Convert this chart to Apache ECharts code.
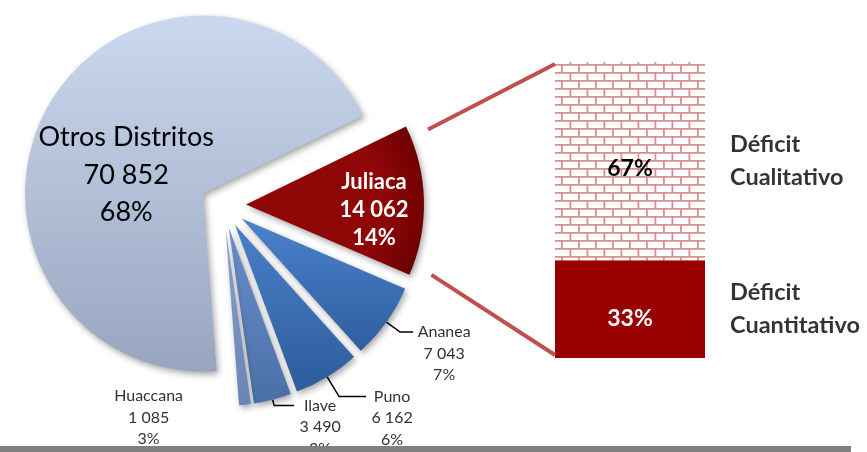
<!DOCTYPE html>
<html><head><meta charset="utf-8">
<script src="https://cdn.jsdelivr.net/npm/echarts@6/dist/echarts.min.js"></script>
<style>html,body{margin:0;padding:0;background:#fff}#c{width:867px;height:452px}</style>
</head><body><div id="c"></div>
<script>
// ---- data ----
const districts = ['Juliaca', 'Ananea', 'Puno', 'Ilave', 'Huaccana', 'Otros Distritos'];
const viviendas = [14062, 7043, 6162, 3490, 1085, 70852];
const pctLabels = ['14%', '7%', '6%', '3%', '3%', '68%'];
const deficitNames = ['Déficit\nCuantitativo', 'Déficit\nCualitativo'];
const deficitPct = [33, 67];
const barCategory = ['Juliaca'];

// ---- layout / style ----
const FONT = 'Lato, "Open Sans", sans-serif';
const PIE_C = [223, 205], PIE_R = 178, OFFSET = 23, START = 26;
const GRID = { left: 555, top: 62, width: 150, height: 296 };

function fmt(v) { return String(v).replace(/\B(?=(\d{3})+(?!\d))/g, ' '); }

function brickPattern() {
  const c = document.createElement('canvas');
  c.width = 34; c.height = 16;
  const g = c.getContext('2d');
  g.fillStyle = '#ffffff'; g.fillRect(0, 0, 34, 16);
  g.strokeStyle = '#d98f8d'; g.lineWidth = 1.8;
  g.beginPath();
  g.moveTo(0, 0.9); g.lineTo(34, 0.9);
  g.moveTo(0, 8.9); g.lineTo(34, 8.9);
  g.moveTo(0.9, 0); g.lineTo(0.9, 8);
  g.moveTo(17.9, 0); g.lineTo(17.9, 8);
  g.moveTo(9.4, 8); g.lineTo(9.4, 16);
  g.moveTo(26.4, 8); g.lineTo(26.4, 16);
  g.stroke();
  return c;
}

function lin(a, b) {
  return { type: 'linear', x: 0, y: 0, x2: 0, y2: 1, colorStops: [{ offset: 0, color: a }, { offset: 1, color: b }] };
}
function rad(a, b) {
  return { type: 'radial', x: 0.4, y: 0.5, r: 0.8, colorStops: [{ offset: 0, color: a }, { offset: 0.6, color: a }, { offset: 1, color: b }] };
}
const sliceColors = [
  rad('#8e0606', '#680000'),
  lin('#4a82cc', '#2e5e9e'),
  lin('#4a80c8', '#2d5c9c'),
  lin('#6a90cc', '#4a6fa8'),
  lin('#88a3d0', '#6883b5'),
  lin('#cbd9ef', '#97a5bf')
];
const lineLens = [[0, 0], [17, 13], [23, 27], [6, 20], [0, 0], [0, 0]];

function smallRich(w) { return { a: { fontFamily: FONT, fontSize: 16, color: '#333333', lineHeight: 21.5, align: 'center', width: w } }; }
const smallFmt = p => '{a|' + p.name + '}\n{a|' + fmt(p.value) + '}\n{a|' + pctLabels[p.dataIndex] + '}';

const pieData = districts.map((name, i) => {
  const item = {
    name: name, value: viviendas[i], selected: true,
    itemStyle: {
      color: sliceColors[i],
      shadowBlur: 6, shadowOffsetX: 2, shadowOffsetY: 3, shadowColor: 'rgba(0,0,0,0.35)'
    }
  };
  if (i === 0) {
    item.label = { position: 'inside', fontFamily: FONT, fontSize: 22, fontWeight: 'bold', color: '#fff', lineHeight: 28,
      formatter: p => p.name + '\n' + fmt(p.value) + '\n' + pctLabels[p.dataIndex] };
  } else if (i === 5) {
    item.label = { position: 'inside', fontFamily: FONT, fontSize: 27, color: '#000', lineHeight: 37.5,
      formatter: p => p.name + '\n' + fmt(p.value) + '\n' + pctLabels[p.dataIndex] };
  } else if (i === 4) {
    item.label = { position: 'outside', rich: smallRich(70), formatter: smallFmt };
    item.labelLine = { show: false };
  } else {
    item.label = { position: 'outside', rich: smallRich(i === 1 ? 56 : 46), padding: [43, 0, 0, 0], distanceToLabelLine: 3, formatter: smallFmt };
    item.labelLine = { show: true, length: lineLens[i][0], length2: lineLens[i][1], lineStyle: { color: '#000', width: 1.5 } };
  }
  return item;
});

let cum = 0;
const namePoints = deficitPct.map(v => { const m = cum + v / 2; cum += v; return [0, m]; });

const chart = echarts.init(document.getElementById('c'));
const option = {
  animation: false,
  backgroundColor: '#fff',
  grid: GRID,
  xAxis: { type: 'category', data: barCategory, show: false },
  yAxis: { type: 'value', min: 0, max: 100, show: false },
  series: [
    {
      type: 'pie', center: PIE_C, radius: PIE_R, startAngle: START, clockwise: true,
      selectedMode: 'multiple', selectedOffset: OFFSET, avoidLabelOverlap: false, silent: true,
      emphasis: { disabled: true },
      data: pieData,
      labelLayout: function (p) {
        if (p.dataIndex === 4) return { dx: -168, dy: -2 };
        if (p.dataIndex === 5) return { dx: 3, dy: 27 };
        if (p.dataIndex === 0) return { dx: 36, dy: 8 };
      }
    },
    {
      type: 'bar', stack: 'd', barWidth: GRID.width, silent: true, name: deficitNames[0],
      data: [deficitPct[0]],
      itemStyle: { color: '#990000' },
      label: { show: true, position: 'inside', offset: [0, 9], formatter: '{c}%', fontFamily: FONT, fontSize: 23, fontWeight: 'bold', color: '#fff' }
    },
    {
      type: 'bar', stack: 'd', barWidth: GRID.width, silent: true, name: deficitNames[1],
      data: [deficitPct[1]],
      itemStyle: { color: { image: brickPattern(), repeat: 'repeat' } },
      label: { show: true, position: 'inside', offset: [0, 7], formatter: '{c}%', fontFamily: FONT, fontSize: 23, fontWeight: 'bold', color: '#000' }
    },
    {
      type: 'scatter', symbolSize: 0, silent: true,
      data: namePoints,
      label: { show: true, position: 'right', distance: 100, fontFamily: FONT, fontSize: 23.5, fontWeight: 'bold', color: '#000', lineHeight: 33, align: 'left',
        formatter: p => deficitNames[p.dataIndex] }
    }
  ]
};
chart.setOption(option);

// connector lines from the Juliaca slice to the bar
const total = viviendas.reduce((a, b) => a + b, 0);
const jAng = viviendas[0] / total * 360;
const mid = (START - jAng / 2) * Math.PI / 180;
const ox = PIE_C[0] + OFFSET * Math.cos(mid), oy = PIE_C[1] - OFFSET * Math.sin(mid);
function corner(deg) { const a = deg * Math.PI / 180; return [ox + PIE_R * Math.cos(a) + 22, oy - PIE_R * Math.sin(a)]; }
const p1 = corner(START), p2 = corner(START - jAng);
const barTop = chart.convertToPixel({ gridIndex: 0 }, [0, 100]);
const barBot = chart.convertToPixel({ gridIndex: 0 }, [0, 0]);
const bl = barTop[0] - GRID.width / 2;
chart.setOption({
  graphic: [
    { type: 'line', z: 50, shape: { x1: p1[0], y1: p1[1] + 3, x2: bl, y2: barTop[1] + 2 }, style: { stroke: '#c0504d', lineWidth: 4 } },
    { type: 'line', z: 50, shape: { x1: p2[0], y1: p2[1], x2: bl, y2: barBot[1] - 3 }, style: { stroke: '#c0504d', lineWidth: 4 } },
    { type: 'rect', z: 100, shape: { x: 0, y: 446, width: 851, height: 6 }, style: { fill: '#808080' } }
  ]
});
</script>
</body></html>
